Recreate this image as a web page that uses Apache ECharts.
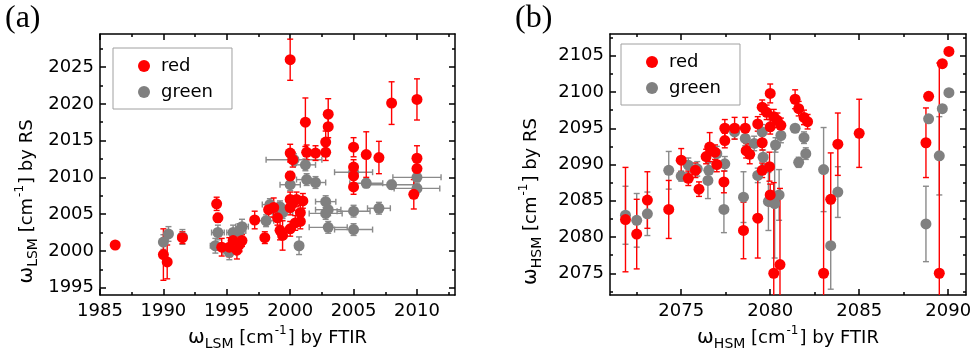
<!DOCTYPE html>
<html>
<head>
<meta charset="utf-8">
<script src="https://cdn.jsdelivr.net/npm/echarts@6/dist/echarts.min.js"></script>
<style>html,body{margin:0;padding:0;background:#fff;}#c{width:974px;height:362px;}</style>
</head>
<body>
<div id="c"></div>
<script>
// ---------- Panel (a) data ----------
const aRedX = [1986.2,1990.0,1990.3,1991.5,1994.2,1994.3,1994.6,1995.2,1995.5,1996.0,1996.2,1995.8,1997.2,1998.0,1998.3,1998.7,1999.0,1999.2,1999.4,2000.0,2000.0,2000.2,2000.0,2000.0,2000.2,2000.0,2000.5,2000.8,2001.0,2000.8,2000.0,2000.4,2001.2,2001.3,2002.0,2002.8,2002.8,2003.0,2003.0,2005.0,2005.0,2005.0,2005.0,2006.0,2007.0,2008.0,2010.0,2010.0,2010.0,2009.75];
const aRedY = [2000.8,1999.5,1998.5,2001.8,2006.4,2004.5,2000.5,2000.5,2001.4,2000.9,2001.4,2000.1,2004.2,2001.8,2005.6,2005.9,2004.5,2002.8,2002.1,2026.0,2013.3,2012.4,2010.2,2007.0,2006.5,2005.9,2007.0,2005.2,2006.8,2004.0,2003.0,2003.8,2017.5,2013.4,2013.3,2014.8,2013.4,2018.6,2016.9,2014.1,2011.4,2010.2,2008.7,2013.1,2012.7,2020.1,2020.6,2012.6,2011.2,2007.7];
const aRedErr = [0.3,3.5,2.3,0.8,0.9,0.6,1.2,1.3,1.2,1.0,0.8,1.2,1.2,0.8,1.0,1.3,1.0,1.3,2.0,2.8,1.2,1.0,0.6,1.0,1.0,1.0,1.0,1.0,1.0,1.0,1.0,1.0,3.3,1.0,1.0,1.5,1.1,2.1,1.5,1.3,1.0,1.0,1.0,3.1,2.2,2.9,2.8,1.7,1.0,2.0];

const aGrayX = [1990.0,1990.4,1991.5,1994.1,1994.3,1995.5,1996.0,1996.2,1995.2,1998.1,1998.4,1999.2,1999.4,2000.0,2000.3,2000.7,2001.2,2001.3,2002.0,2002.8,2003.0,2002.8,2003.0,2005.0,2005.0,2005.0,2006.0,2007.0,2008.0,2010.0,2010.0];
const aGrayY = [2001.2,2002.3,2001.9,2000.7,2002.5,2002.5,2002.7,2003.3,1999.8,2004.1,2006.3,2006.0,2005.2,2009.0,2012.4,2000.7,2011.7,2009.7,2009.3,2006.7,2005.6,2005.1,2003.2,2005.4,2002.9,2010.7,2009.2,2005.8,2009.0,2010.0,2008.5];
const aGrayXErr = [0.3,0.3,0.3,0.4,0.5,0.5,0.5,0.5,0.5,0.6,0.6,0.8,0.8,0.8,2.2,0.3,0.8,0.8,0.8,0.8,1.0,1.3,1.5,1.3,1.5,1.5,1.3,0.9,1.8,1.9,1.8];
const aGrayYErr = [1.0,1.0,1.0,1.0,1.0,1.0,1.0,1.0,1.0,0.8,0.8,0.8,0.8,0.8,0.8,1.2,0.8,0.8,0.8,0.8,0.8,0.8,0.8,0.8,0.8,0.5,0.6,0.8,0.6,0.6,0.6];

const aXTicks = [1985,1990,1995,2000,2005,2010];
const aXMinor = [1987.5,1992.5,1997.5,2002.5,2007.5,2012.5];
const aYTicks = [1995,2000,2005,2010,2015,2020,2025];
const aYMinor = [1997.5,2002.5,2007.5,2012.5,2017.5,2022.5,2027.5];

// ---------- Panel (b) data ----------
const bRedX = [2071.87,2072.5,2073.1,2074.3,2075.0,2075.4,2075.8,2076.0,2076.4,2076.6,2076.9,2077.0,2077.4,2077.45,2077.45,2078.0,2078.6,2078.5,2078.65,2078.85,2079.3,2079.3,2079.55,2079.55,2080.0,2079.8,2080.0,2080.2,2080.4,2080.6,2079.96,2080.0,2079.55,2080.2,2080.55,2081.4,2081.6,2081.9,2082.1,2083.0,2083.4,2083.8,2085.0,2088.75,2088.9,2089.5,2089.67,2090.04];
const bRedY = [2082.4,2080.4,2085.1,2083.8,2090.6,2088.1,2089.2,2086.6,2091.1,2092.4,2091.7,2090.0,2087.6,2095.0,2093.3,2095.0,2095.0,2080.9,2091.9,2091.4,2095.6,2082.6,2097.9,2093.0,2099.8,2097.2,2095.2,2096.6,2096.1,2095.4,2089.7,2085.8,2089.2,2075.0,2076.2,2099.0,2097.7,2096.5,2095.9,2075.0,2085.2,2092.8,2094.3,2093.0,2099.4,2075.0,2103.9,2105.6];
const bRedErr = [7.2,4.8,3.9,4.0,1.6,1.0,1.0,1.0,1.0,2.0,1.0,1.0,1.5,1.2,1.0,1.5,1.5,3.9,1.0,1.3,1.0,5.5,1.0,1.0,1.3,1.0,1.0,1.0,1.0,1.0,2.0,1.5,1.0,12.5,10.5,1.3,1.0,1.0,1.0,14.3,6.4,4.3,4.7,4.8,0.3,29,0.3,0.3];

const bGrayX = [2071.87,2072.5,2073.1,2074.3,2075.0,2075.4,2075.9,2076.5,2076.55,2077.0,2077.45,2077.4,2078.0,2078.5,2078.6,2079.1,2079.3,2079.55,2079.6,2079.9,2080.25,2080.5,2080.3,2080.6,2081.4,2081.6,2081.9,2082.0,2083.0,2083.4,2083.8,2088.75,2088.9,2089.5,2089.67,2090.04];
const bGrayY = [2083.0,2082.3,2083.2,2089.2,2088.4,2089.9,2089.4,2087.8,2089.2,2091.5,2090.1,2083.8,2094.5,2085.5,2093.6,2092.9,2088.5,2094.5,2091.0,2084.9,2084.6,2085.8,2092.7,2094.0,2095.0,2090.3,2093.7,2091.5,2089.3,2078.8,2086.2,2081.8,2096.3,2091.2,2097.7,2099.9];
const bGrayErr = [4.0,3.7,3.0,2.6,0.7,1.0,1.0,2.5,1.0,1.0,1.0,3.2,1.0,3.5,1.0,1.0,1.0,1.0,1.0,4.0,7.5,3.5,1.0,1.0,0.5,0.7,0.8,0.8,5.8,6.0,3.5,5.2,0.5,5.4,0.5,0.3];

const bXTicks = [2075,2080,2085,2090];
const bXMinor = [2072.5,2077.5,2082.5,2087.5];
const bYTicks = [2075,2080,2085,2090,2095,2100,2105];
const bYMinor = [2072.5,2077.5,2082.5,2087.5,2092.5,2097.5,2102.5,2107.5];

// ---------- styles ----------
const FONT = 'DejaVu Sans';
const RED = '#ff0000';
const GRAY = '#808080';
const lineStyle = {color: '#000', width: 1.5};

function axisSet(isX, grid, min, max, ticks, minor, nameOpt) {
  const posA = isX ? 'bottom' : 'left';
  const posB = isX ? 'top' : 'right';
  const base = {type: 'value', gridIndex: grid, min: min, max: max, splitLine: {show: false}, scale: true};
  const main = Object.assign({}, base, {
    position: posA,
    axisLine: {show: true, onZero: false, lineStyle: lineStyle},
    axisTick: {show: true, inside: true, length: 6, customValues: ticks, lineStyle: lineStyle},
    axisLabel: {show: true, customValues: ticks, margin: isX ? 7 : 6, color: '#000', fontFamily: FONT, fontSize: 18,
      formatter: function (v) { return String(v); }},
  }, nameOpt);
  const mainMinor = Object.assign({}, base, {
    position: posA,
    axisLine: {show: false, onZero: false},
    axisTick: {show: true, inside: true, length: 3, customValues: minor, lineStyle: lineStyle},
    axisLabel: {show: false}
  });
  const opp = Object.assign({}, base, {
    position: posB,
    axisLine: {show: true, onZero: false, lineStyle: lineStyle},
    axisTick: {show: true, inside: true, length: 6, customValues: ticks, lineStyle: lineStyle},
    axisLabel: {show: false}
  });
  const oppMinor = Object.assign({}, base, {
    position: posB,
    axisLine: {show: false, onZero: false},
    axisTick: {show: true, inside: true, length: 3, customValues: minor, lineStyle: lineStyle},
    axisLabel: {show: false}
  });
  return [main, mainMinor, opp, oppMinor];
}

const rich = {
  w: {fontFamily: FONT, fontSize: 20, color: '#000'},
  sub: {fontFamily: FONT, fontSize: 14, color: '#000', padding: [12, 0, 0, 0]},
  n: {fontFamily: FONT, fontSize: 18, color: '#000'},
  sup: {fontFamily: FONT, fontSize: 12, color: '#000', padding: [0, 1, 14, 1]}
};
function xName(sub, tail, gap) {
  return {name: '{w|ω}{sub|' + sub + '}{n| [cm}{sup|-1}{n|] ' + tail + '}', nameLocation: 'middle', nameGap: gap,
    nameMoveOverlap: false, nameTextStyle: {rich: rich}};
}
function yName(sub, tail, gap) {
  return {name: '{w|ω}{sub|' + sub + '}{n| [cm}{sup|-1}{n|] ' + tail + '}', nameLocation: 'middle', nameGap: gap, nameRotate: 90,
    nameMoveOverlap: false, nameTextStyle: {rich: rich, padding: [0, 74, 0, 0]}};
}

function errSeries(name, xi, yi, data, color, withX) {
  return {
    name: name, type: 'custom', xAxisIndex: xi, yAxisIndex: yi, clip: true, silent: true,
    encode: {x: 0, y: 1},
    data: data,
    z: 2,
    renderItem: function (params, api) {
      const x = api.value(0), y = api.value(1), xe = api.value(2), ye = api.value(3);
      const st = {stroke: color, lineWidth: 1.4};
      const cap = 3;
      const children = [];
      if (ye > 0) {
        const t = api.coord([x, y + ye]), b = api.coord([x, y - ye]);
        children.push({type: 'line', shape: {x1: t[0], y1: t[1], x2: b[0], y2: b[1]}, style: st});
        children.push({type: 'line', shape: {x1: t[0] - cap, y1: t[1], x2: t[0] + cap, y2: t[1]}, style: st});
        children.push({type: 'line', shape: {x1: b[0] - cap, y1: b[1], x2: b[0] + cap, y2: b[1]}, style: st});
      }
      if (withX && xe > 0) {
        const l = api.coord([x - xe, y]), r = api.coord([x + xe, y]);
        children.push({type: 'line', shape: {x1: l[0], y1: l[1], x2: r[0], y2: r[1]}, style: st});
        children.push({type: 'line', shape: {x1: l[0], y1: l[1] - cap, x2: l[0], y2: l[1] + cap}, style: st});
        children.push({type: 'line', shape: {x1: r[0], y1: r[1] - cap, x2: r[0], y2: r[1] + cap}, style: st});
      }
      return {type: 'group', children: children};
    }
  };
}
function dotSeries(name, xi, yi, data, color, z) {
  return {name: name, type: 'scatter', xAxisIndex: xi, yAxisIndex: yi, data: data, symbol: 'circle', symbolSize: 11,
    itemStyle: {color: color, opacity: 1}, z: z, silent: true};
}

const aRedData = aRedX.map((x, i) => [x, aRedY[i]]);
const aRedErrData = aRedX.map((x, i) => [x, aRedY[i], 0, aRedErr[i]]);
const aGrayData = aGrayX.map((x, i) => [x, aGrayY[i]]);
const aGrayErrData = aGrayX.map((x, i) => [x, aGrayY[i], aGrayXErr[i], aGrayYErr[i]]);
const bRedData = bRedX.map((x, i) => [x, bRedY[i]]);
const bRedErrData = bRedX.map((x, i) => [x, bRedY[i], 0, bRedErr[i]]);
const bGrayData = bGrayX.map((x, i) => [x, bGrayY[i]]);
const bGrayErrData = bGrayX.map((x, i) => [x, bGrayY[i], 0, bGrayErr[i]]);

const legendCommon = {
  orient: 'vertical', itemWidth: 12, itemHeight: 12, itemGap: 8,
  padding: [9, 19, 8, 25], borderColor: '#a0a0a0', borderWidth: 1,
  icon: 'circle', selectedMode: false,
  textStyle: {fontFamily: FONT, fontSize: 18, color: '#000', padding: [0, 0, 0, 6]},
  data: ['red', 'green']
};

const chart = echarts.init(document.getElementById('c'), null, {renderer: 'canvas'});
chart.setOption({
  animation: false,
  backgroundColor: '#fff',
  grid: [
    {left: 100, top: 34, width: 355, height: 261, outerBoundsMode: 'none'},
    {left: 610, top: 34, width: 356, height: 261, outerBoundsMode: 'none'}
  ],
  xAxis: [].concat(
    axisSet(true, 0, 1985, 2013, aXTicks, aXMinor, xName('LSM', 'by FTIR', 30)),
    axisSet(true, 1, 2071, 2091, bXTicks, bXMinor, xName('HSM', 'by FTIR', 30))
  ),
  yAxis: [].concat(
    axisSet(false, 0, 1994, 2029.5, aYTicks, aYMinor, yName('LSM', 'by RS', 60)),
    axisSet(false, 1, 2072, 2108, bYTicks, bYMinor, yName('HSM', 'by RS', 66))
  ),
  legend: [
    Object.assign({}, legendCommon, {left: 113, top: 48}),
    Object.assign({}, legendCommon, {left: 621, top: 44})
  ],
  graphic: [
    {type: 'text', left: 5, top: 3, style: {text: '(a)', font: '32px "Liberation Serif"', fill: '#000'}},
    {type: 'text', left: 515, top: 3, style: {text: '(b)', font: '32px "Liberation Serif"', fill: '#000'}}
  ],
  series: [
    errSeries('aGrayErr', 0, 0, aGrayErrData, '#8a8a8a', true),
    dotSeries('green', 0, 0, aGrayData, GRAY, 3),
    errSeries('aRedErr', 0, 0, aRedErrData, RED, false),
    dotSeries('red', 0, 0, aRedData, RED, 5),
    errSeries('bGrayErr', 4, 4, bGrayErrData, '#8a8a8a', false),
    dotSeries('green', 4, 4, bGrayData, GRAY, 3),
    errSeries('bRedErr', 4, 4, bRedErrData, RED, false),
    dotSeries('red', 4, 4, bRedData, RED, 5)
  ]
});
</script>
</body>
</html>
